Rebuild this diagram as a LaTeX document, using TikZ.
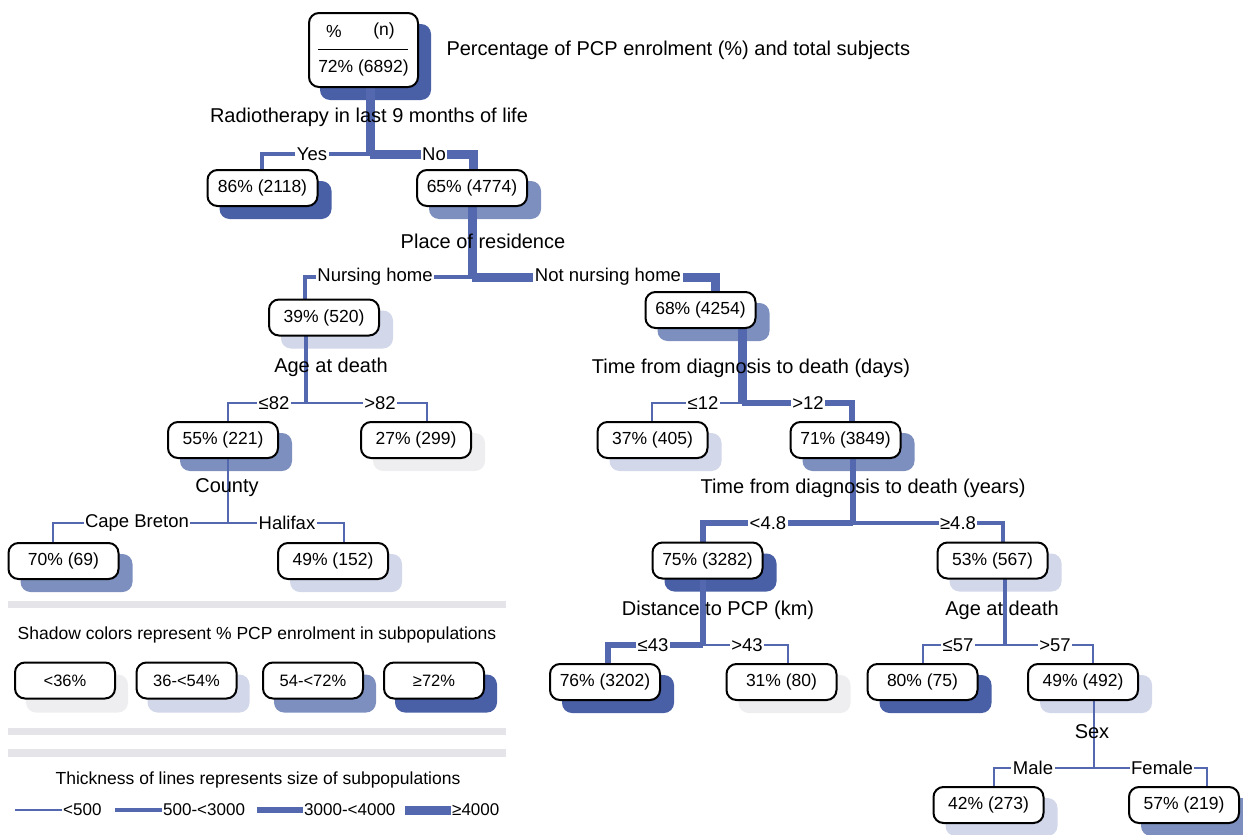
\documentclass[tikz,border=0pt]{standalone}
\usepackage{fontspec}
\setmainfont{Liberation Sans}
\usetikzlibrary{calc}
\pgfdeclarelayer{shad}
\pgfdeclarelayer{lin}
\pgfsetlayers{shad,lin,main}
\definecolor{lc}{RGB}{84,104,176}
\definecolor{sd}{RGB}{74,96,166}
\definecolor{sm}{RGB}{124,143,190}
\definecolor{sl}{RGB}{210,215,234}
\definecolor{sv}{RGB}{238,238,240}
\definecolor{barc}{RGB}{228,228,233}
\newcommand\mainfs{\fontsize{17.5}{21}\selectfont}
\newcommand\bigfs{\fontsize{20}{24}\selectfont}
\newcommand\brfs{\fontsize{18.5}{22}\selectfont}
\newcommand\smallfs{\fontsize{16.5}{20}\selectfont}
\newcommand\legfs{\fontsize{17}{20}\selectfont}
\tikzset{
  pbox/.style={draw=black, line width=2pt, rounded corners=10pt, fill=white,
    minimum width=110pt, minimum height=36pt, inner sep=0pt},
  lbox/.style={pbox, minimum width=100pt, font=\smallfs},
  w1/.style={draw=lc, line width=1.5pt},
  w2/.style={draw=lc, line width=4pt},
  w3/.style={draw=lc, line width=6.5pt},
  w4/.style={draw=lc, line width=9pt},
  blab/.style={fill=white, inner sep=1.5pt, font=\brfs},
  slab/.style={inner sep=0pt, font=\bigfs},
}
\newcommand\pnode[5]{%
  \node[pbox] (#1) at (#2,#3) {#4};
  \begin{pgfonlayer}{shad}
  \fill[#5, rounded corners=10pt] ([xshift=13pt,yshift=-12pt]#1.south west) rectangle ([xshift=13pt,yshift=-12pt]#1.north east);
  \end{pgfonlayer}}
\newcommand\plnode[5]{%
  \node[lbox] (#1) at (#2,#3) {#4};
  \begin{pgfonlayer}{shad}
  \fill[#5, rounded corners=10pt] ([xshift=12pt,yshift=-13pt]#1.south west) rectangle ([xshift=12pt,yshift=-13pt]#1.north east);
  \end{pgfonlayer}}
\begin{document}
\begin{tikzpicture}[x=1pt, y=-1pt, font=\mainfs]
\useasboundingbox (0,0) rectangle (1243,835);

% ---------- root ----------
\node[pbox, minimum width=109pt, minimum height=74pt] (root) at (363.5,50) {};
\begin{pgfonlayer}{shad}
\fill[sd, rounded corners=10pt] ([xshift=12pt,yshift=-12pt]root.south west) rectangle ([xshift=12pt,yshift=-12pt]root.north east);
\end{pgfonlayer}
\node (rp) at (334,31) {\%};
\node (rn) at (384,31) {(n)};
\draw[line width=0.8pt] (318,49) -- (408,49);
\node (rv) at (363.5,68) {72\% (6892)};
\node[anchor=west, font=\bigfs] (title) at (443,50) {Percentage of PCP enrolment (\%) and total subjects};

% ---------- tree nodes ----------
\pnode{n86}{262.5}{188}{86\% (2118)}{sd}
\pnode{n65}{472}{188}{65\% (4774)}{sm}
\pnode{n39}{324}{317.5}{39\% (520)}{sl}
\pnode{n68}{700.5}{310}{68\% (4254)}{sm}
\pnode{n55}{223}{440}{55\% (221)}{sm}
\pnode{n27}{416}{440}{27\% (299)}{sv}
\pnode{n37}{652.5}{440}{37\% (405)}{sl}
\pnode{n71}{845.5}{440}{71\% (3849)}{sm}
\pnode{n70}{63.5}{561}{70\% (69)}{sm}
\pnode{n49a}{333}{561}{49\% (152)}{sl}
\pnode{n75}{707.5}{560.5}{75\% (3282)}{sd}
\pnode{n53}{992.5}{560.5}{53\% (567)}{sl}
\pnode{n76}{605}{682}{76\% (3202)}{sd}
\pnode{n31}{781.5}{682}{31\% (80)}{sv}
\pnode{n80}{922.5}{682}{80\% (75)}{sd}
\pnode{n49b}{1083}{682}{49\% (492)}{sl}
\pnode{n42}{988.5}{805}{42\% (273)}{sl}
\pnode{n57}{1184}{805}{57\% (219)}{sm}

% ---------- split and corner coordinates ----------
\coordinate (s0) at (370,154);
\coordinate (c86) at (262,154);
\coordinate (c65) at (473,154);
\coordinate (s65) at (472,277);
\coordinate (c39) at (305,277);
\coordinate (c68) at (715,277);
\coordinate (s39) at (306,403);
\coordinate (c55) at (228,403);
\coordinate (c27) at (427,403);
\coordinate (s55) at (228,523);
\coordinate (c70) at (53,523);
\coordinate (c49a) at (344,523);
\coordinate (s68) at (742,403);
\coordinate (c37) at (652,403);
\coordinate (c71) at (852,403);
\coordinate (s71) at (853,523);
\coordinate (c75) at (703,523);
\coordinate (c53) at (1003,523);
\coordinate (s75) at (703,645);
\coordinate (c76) at (608,645);
\coordinate (c31) at (788,645);
\coordinate (s53) at (1005,645);
\coordinate (c80) at (923,645);
\coordinate (c49b) at (1093,645);
\coordinate (s49b) at (1094,768);
\coordinate (c42) at (994,768);
\coordinate (c57) at (1207,768);

% ---------- connectors ----------
\begin{pgfonlayer}{lin}
\draw[w4] (s0 |- root) -- (s0);
\draw[w2] (s0) -- (c86) -- (c86 |- n86);
\draw[w4] (s0) -- (c65) -- (c65 |- n65);
\draw[w4] (s65 |- n65) -- (s65);
\draw[w2] (s65) -- (c39) -- (c39 |- n39);
\draw[w4] (s65) -- (c68) -- (c68 |- n68);
\draw[w2] (s39 |- n39) -- (s39);
\draw[w1] (s39) -- (c55) -- (c55 |- n55);
\draw[w1] (s39) -- (c27) -- (c27 |- n27);
\draw[w1] (s55 |- n55) -- (s55);
\draw[w1] (s55) -- (c70) -- (c70 |- n70);
\draw[w1] (s55) -- (c49a) -- (c49a |- n49a);
\draw[w4] (s68 |- n68) -- (s68);
\draw[w1] (s68) -- (c37) -- (c37 |- n37);
\draw[w3] (s68) -- (c71) -- (c71 |- n71);
\draw[w3] (s71 |- n71) -- (s71);
\draw[w3] (s71) -- (c75) -- (c75 |- n75);
\draw[w2] (s71) -- (c53) -- (c53 |- n53);
\draw[w3] (s75 |- n75) -- (s75);
\draw[w3] (s75) -- (c76) -- (c76 |- n76);
\draw[w1] (s75) -- (c31) -- (c31 |- n31);
\draw[w2] (s53 |- n53) -- (s53);
\draw[w1] (s53) -- (c80) -- (c80 |- n80);
\draw[w1] (s53) -- (c49b) -- (c49b |- n49b);
\draw[w1] (s49b |- n49b) -- (s49b);
\draw[w1] (s49b) -- (c42) -- (c42 |- n42);
\draw[w1] (s49b) -- (c57) -- (c57 |- n57);
\end{pgfonlayer}

% ---------- split labels ----------
\node[slab] (q0) at (369,117) {Radiotherapy in last 9 months of life};
\node[slab] (q65) at (483,241) {Place of residence};
\node[slab] (q39) at (331,367) {Age at death};
\node[slab] (q55) at (227,488) {County};
\node[slab] (q68) at (751,368) {Time from diagnosis to death (days)};
\node[slab] (q71) at (863,488) {Time from diagnosis to death (years)};
\node[slab] (q75) at (718,610) {Distance to PCP (km)};
\node[slab] (q53) at (1002,610) {Age at death};
\node[slab] (q49) at (1092,732) {Sex};

% ---------- branch labels ----------
\node[blab] (b1) at (312,154) {Yes};
\node[blab] (b2) at (434,154) {No};
\node[blab] (b3) at (375,277) {Nursing home};
\node[blab] (b4) at (608,277) {Not nursing home};
\node[blab] (b5) at (274,403) {≤82};
\node[blab] (b6) at (380,403) {>82};
\node[blab] (b7) at (137,523) {Cape Breton};
\node[blab] (b8) at (287,523) {Halifax};
\node[blab] (b9) at (703,403) {≤12};
\node[blab] (b10) at (808,403) {>12};
\node[blab] (b11) at (768,523) {<4.8};
\node[blab] (b12) at (958,523) {≥4.8};
\node[blab] (b13) at (653,645) {≤43};
\node[blab] (b14) at (747,645) {>43};
\node[blab] (b15) at (958,645) {≤57};
\node[blab] (b16) at (1055,645) {>57};
\node[blab] (b17) at (1033,768) {Male};
\node[blab] (b18) at (1162,768) {Female};

% ---------- legend ----------
\fill[barc] (8,601) rectangle (506,608);
\fill[barc] (8,728) rectangle (506,735);
\fill[barc] (8,749) rectangle (506,757);
\node (lt1) at (257,635) {Shadow colors represent \% PCP enrolment in subpopulations};
\plnode{l1}{65}{680.5}{<36\%}{sv}
\plnode{l2}{186.5}{680.5}{36-<54\%}{sl}
\plnode{l3}{313}{680.5}{54-<72\%}{sm}
\plnode{l4}{434}{680.5}{≥72\%}{sd}
\node (lt2) at (258,780) {Thickness of lines represents size of subpopulations};
\node[anchor=west, inner sep=1pt, font=\legfs] (t1) at (62,810) {<500};
\node[anchor=west, inner sep=1pt, font=\legfs] (t2) at (162,810) {500-<3000};
\node[anchor=west, inner sep=1pt, font=\legfs] (t3) at (303,810) {3000-<4000};
\node[anchor=west, inner sep=1pt, font=\legfs] (t4) at (451,810) {≥4000};
\coordinate (e1) at (15,810);
\coordinate (e2) at (115,810);
\coordinate (e3) at (257,810);
\coordinate (e4) at (405,810);
\draw[w1] (e1) -- (t1.west);
\draw[w2] (e2) -- (t2.west);
\draw[w3] (e3) -- (t3.west);
\draw[w4] (e4) -- (t4.west);
\end{tikzpicture}
\end{document}
